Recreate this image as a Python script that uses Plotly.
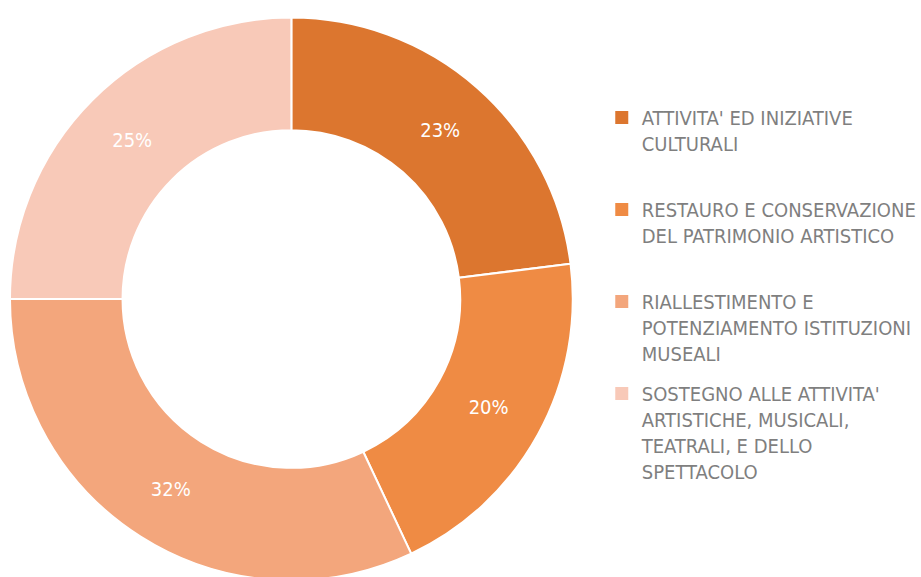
import plotly.graph_objects as go

labels = [
    "ATTIVITA' ED INIZIATIVE<br>CULTURALI",
    "RESTAURO E CONSERVAZIONE<br>DEL PATRIMONIO ARTISTICO",
    "RIALLESTIMENTO E<br>POTENZIAMENTO ISTITUZIONI<br>MUSEALI",
    "SOSTEGNO ALLE ATTIVITA'<br>ARTISTICHE, MUSICALI,<br>TEATRALI, E DELLO<br>SPETTACOLO",
]
values = [23, 20, 32, 25]
colors = ["#DC762F", "#EF8B44", "#F3A67C", "#F8C9B8"]

FONT = "DejaVu Sans Condensed, Liberation Sans Narrow, Arial Narrow, sans-serif"

fig = go.Figure()
fig.add_trace(
    go.Pie(
        labels=labels,
        values=values,
        sort=False,
        direction="clockwise",
        rotation=0,
        hole=0.6,
        marker=dict(colors=colors, line=dict(color="white", width=2)),
        textinfo="percent",
        textposition="inside",
        insidetextorientation="horizontal",
        textfont=dict(color="white", size=20, family=FONT),
        domain=dict(x=[10 / 921, 574 / 921], y=[0, 1]),
        hoverinfo="label+percent",
        showlegend=False,
    )
)

# legend entries (one per slice), padded to equal heights like the original
max_lines = 3
for i, (lab, col) in enumerate(zip(labels, colors)):
    n = lab.count("<br>") + 1
    pad = "<br>\u00a0" * max(0, max_lines - n)
    fig.add_trace(
        go.Scatter(
            x=[None],
            y=[None],
            mode="markers",
            name=lab + pad,
            legendgroup=f"g{i}",
            marker=dict(symbol="square", size=13, color=col, line=dict(width=0)),
            showlegend=True,
            hoverinfo="skip",
        )
    )

fig.update_layout(
    width=921,
    height=581,
    margin=dict(l=0, r=0, t=17, b=0),
    paper_bgcolor="white",
    plot_bgcolor="white",
    xaxis=dict(visible=False),
    yaxis=dict(visible=False),
    showlegend=True,
    legend=dict(
        x=0.6548,
        y=0.8564,
        xanchor="left",
        yanchor="top",
        valign="top",
        traceorder="grouped",
        font=dict(color="#7F7F7F", size=20, family=FONT),
        tracegroupgap=11,
        bgcolor="rgba(0,0,0,0)",
    ),
)

fig.write_html(
    "out.html",
    config={"displayModeBar": False},
    post_script="document.body.style.margin='0';document.body.style.overflow='hidden';",
)
